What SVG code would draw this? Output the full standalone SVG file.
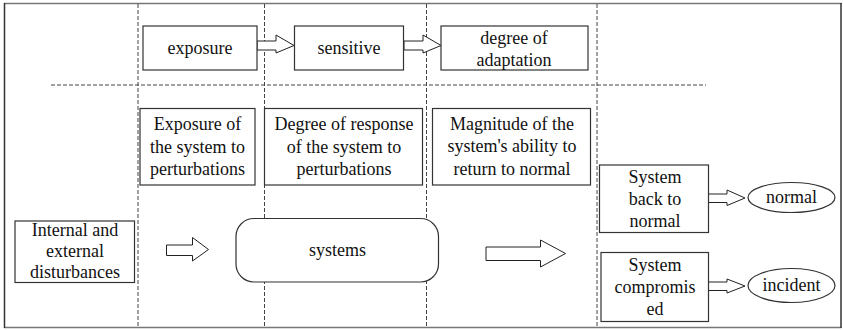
<svg xmlns="http://www.w3.org/2000/svg" width="843" height="331" viewBox="0 0 843 331" font-family="Liberation Serif, Times New Roman, Times, serif">
  <style>
    .box { fill: #fff; stroke: #333; stroke-width: 1.2; }
    .dash { fill: none; stroke: #444; stroke-width: 1; stroke-dasharray: 4 2; }
    .barrow { fill: #fff; stroke: #222; stroke-width: 1; }
    text { font-size: 18px; fill: #111; text-anchor: middle; }
  </style>
  <rect width="843" height="331" fill="#fff"/>

  <!-- frame -->
  <g id="frame">
    <line x1="4" y1="3.5" x2="841.5" y2="3.5" stroke="#777" stroke-width="1.5"/>
    <line x1="4" y1="327.5" x2="841.5" y2="327.5" stroke="#777" stroke-width="1.5"/>
    <line x1="4.5" y1="3" x2="4.5" y2="328" stroke="#333" stroke-width="1.5"/>
    <line x1="841" y1="3" x2="841" y2="328" stroke="#333" stroke-width="1.5"/>
  </g>

  <!-- column and row separators -->
  <g id="separators">
    <line class="dash" x1="138" y1="4" x2="138" y2="327"/>
    <line class="dash" x1="264.5" y1="4" x2="264.5" y2="327"/>
    <line class="dash" x1="426.5" y1="4" x2="426.5" y2="327"/>
    <line class="dash" x1="597" y1="4" x2="597" y2="327"/>
    <line class="dash" x1="51" y1="85" x2="706" y2="85"/>
  </g>

  <!-- connectors (block arrows) -->
  <g id="connectors">
    <polygon class="barrow" points="257,41 276,41 276,35 294,45.5 276,53 276,50 257,50"/>
    <polygon class="barrow" points="404,41 423,41 423,35 441,45.5 423,53 423,50 404,50"/>
    <polygon class="barrow" points="166.5,245 192.5,245 192.5,237.5 208.5,249.5 192.5,261 192.5,255.5 166.5,255.5"/>
    <polygon class="barrow" points="486,247 540.5,247 540.5,240 565.5,253.5 540.5,267 540.5,260.5 486,260.5"/>
    <polygon class="barrow" points="708,194 727,194 727,190 745,198 727,205.5 727,202.5 708,202.5"/>
    <polygon class="barrow" points="708,282 727,282 727,279 745,286 727,293 727,290.5 708,290.5"/>
  </g>

  <g id="exposure">
    <rect class="box" x="143" y="26" width="114" height="44"/>
    <text x="200" y="54">exposure</text>
  </g>
  <g id="sensitive">
    <rect class="box" x="294.5" y="26" width="109" height="44"/>
    <text x="349" y="54">sensitive</text>
  </g>
  <g id="adaptation">
    <rect class="box" x="441" y="26" width="147" height="44"/>
    <text x="514" y="44">degree of</text>
    <text x="514" y="66">adaptation</text>
  </g>

  <g id="exposure-desc">
    <rect class="box" x="140" y="108.5" width="115" height="76.5"/>
    <text x="197.5" y="129.5">Exposure of</text>
    <text x="197.5" y="152.5">the system to</text>
    <text x="197.5" y="175">perturbations</text>
  </g>
  <g id="response-desc">
    <rect class="box" x="264.5" y="108.5" width="158" height="76.5"/>
    <text x="344" y="129.5">Degree of response</text>
    <text x="344" y="152.5">of the system to</text>
    <text x="344" y="175">perturbations</text>
  </g>
  <g id="recovery-desc">
    <rect class="box" x="432.5" y="108.5" width="158" height="76.5"/>
    <text x="512" y="129.5">Magnitude of the</text>
    <text x="512" y="152">system's ability to</text>
    <text x="512" y="174.5">return to normal</text>
  </g>

  <g id="disturbances">
    <rect class="box" x="15" y="221" width="119.5" height="61.5"/>
    <text x="75" y="235.5">Internal and</text>
    <text x="75" y="256.5">external</text>
    <text x="75" y="278">disturbances</text>
  </g>

  <g id="systems">
    <rect class="box" x="236" y="218.5" width="202.5" height="63.5" rx="18" ry="18"/>
    <text x="337.5" y="256">systems</text>
  </g>

  <g id="back-to-normal">
    <rect class="box" x="599.5" y="165" width="109" height="67.5"/>
    <text x="655" y="183">System</text>
    <text x="655" y="205">back to</text>
    <text x="655" y="227">normal</text>
  </g>
  <g id="compromised">
    <rect class="box" x="601" y="252.5" width="107.5" height="69"/>
    <text x="655" y="271">System</text>
    <text x="655" y="293">compromis</text>
    <text x="655" y="315">ed</text>
  </g>

  <g id="normal">
    <ellipse class="box" cx="791.5" cy="197.5" rx="43.5" ry="15"/>
    <text x="791.5" y="203">normal</text>
  </g>
  <g id="incident">
    <ellipse class="box" cx="791.5" cy="285.5" rx="43.5" ry="17"/>
    <text x="791.5" y="291">incident</text>
  </g>
</svg>
